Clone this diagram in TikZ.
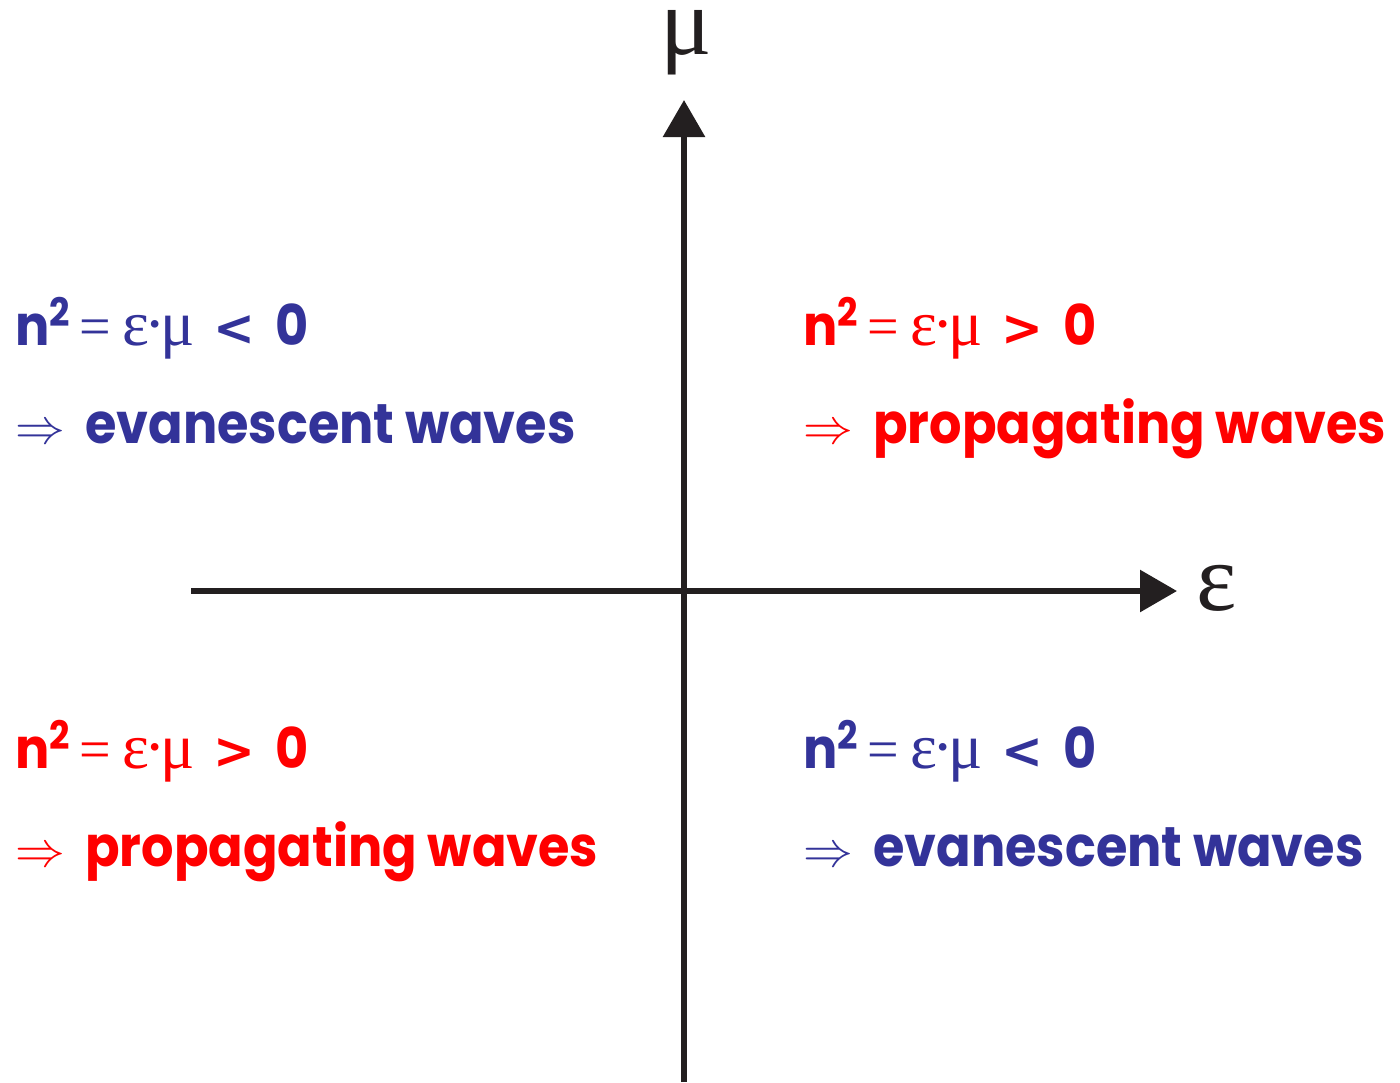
\documentclass[tikz,border=0pt]{standalone}
\usepackage{fontspec}
\setmainfont{Poppins}[FakeStretch=0.91]
\newfontfamily\greekfont{Liberation Serif}
\newfontfamily\relfont{DejaVu Sans}
\usetikzlibrary{arrows.meta}

\definecolor{evblue}{RGB}{51,51,153}
\definecolor{prred}{RGB}{255,0,0}
\definecolor{axisblack}{RGB}{35,31,32}

% thin serif symbols inside the bold lines
\newcommand{\gk}[1]{{\greekfont\mdseries\fontsize{32}{32}\selectfont #1}}
\newcommand{\relline}[1]{n\textsuperscript{2}\kern4pt{\greekfont\mdseries\fontsize{28}{28}\selectfont=}\kern6pt\gk{ε\kern-2.5pt·\kern-2.5ptμ}\hspace{9pt}{\relfont\bfseries\fontsize{25}{25}\selectfont #1}\hspace{10pt}0}
\newcommand{\result}[1]{$\Rightarrow$\hspace{10pt}#1}

\begin{document}
\begin{tikzpicture}[x=0.5pt, y=-0.5pt,
        axis/.style={draw=axisblack, line width=3pt, -{Triangle[length=18.5pt, width=20.5pt]}},
        wave/.style={anchor=base west, inner sep=0pt, font=\bfseries\fontsize{28}{28}\selectfont},
        axislabel/.style={anchor=base, inner sep=0pt, text height=0.5em, text depth=0.2em, text=axisblack, font=\greekfont\fontsize{48}{48}\selectfont}
    ]
        \useasboundingbox (0,0) rectangle (1400,1082);

        % axes
        \coordinate (ybot) at (684,1082);
        \coordinate (ytop) at (684,100);
        \coordinate (xleft) at (191,591);
        \coordinate (xright) at (1177,591);
        \draw[axis] (ybot) -- (ytop);
        \draw[axis] (xleft) -- (xright);
        \node[axislabel] (mu) at (686,54) {μ};
        \node[axislabel] (eps) at (1217,610) {ε};

        % quadrants
        \node[wave, text=evblue] (nw1) at (15,345) {\relline{<}};
        \node[wave, text=evblue] (nw2) at (15,443) {\result{evanescent waves}};
        \node[wave, text=prred] (ne1) at (803,345) {\relline{>}};
        \node[wave, text=prred] (ne2) at (803,443) {\result{propagating waves}};
        \node[wave, text=prred] (sw1) at (15,768) {\relline{>}};
        \node[wave, text=prred] (sw2) at (15,866) {\result{propagating waves}};
        \node[wave, text=evblue] (se1) at (803,768) {\relline{<}};
        \node[wave, text=evblue] (se2) at (803,866) {\result{evanescent waves}};
    \end{tikzpicture}
\end{document}
